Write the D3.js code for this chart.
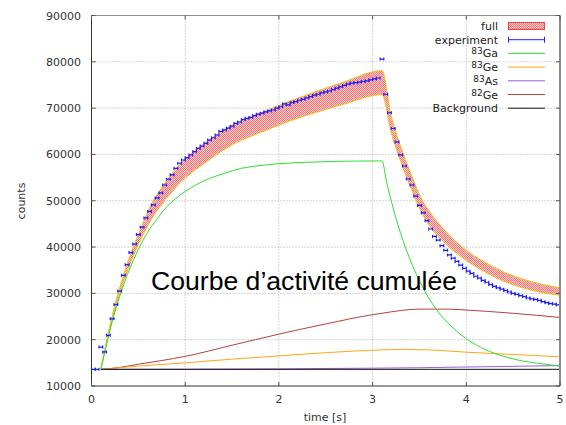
<!DOCTYPE html>
<html>
<head>
<meta charset="utf-8">
<script src="https://cdn.jsdelivr.net/npm/d3@7"></script>
<style>
  body { margin: 0; background: #fff; }
  svg { display: block; font-family: "DejaVu Sans", sans-serif; }
</style>
</head>
<body>
<div id="chart"></div>
<script>
// experiment: counts per 0.04 s bin, first bin centred on 0.02 s
const expStart = 0.02;
const expStep = 0.04;
const expCounts = [
  13600, 13600, 18400, 17350, 20950, 24500, 27600, 30500, 33900, 36200,
  38800, 40650, 42700, 44300, 46300, 47700, 49100, 50600, 51700, 53400,
  54650, 55600, 57000, 58100, 58800, 59300, 59900, 60600, 61300, 61800,
  62400, 63100, 63600, 64200, 65000, 65300, 65700, 66100, 66700, 67000,
  67500, 67800, 68000, 68400, 68700, 68900, 69200, 69400, 69600, 70000,
  70300, 70900, 70700, 71200, 71400, 71700, 71900, 72200, 72500, 72800,
  73000, 73300, 73500, 73700, 74000, 74300, 74600, 74900, 75200, 75400,
  75500, 75600, 75750, 75900, 76100, 76300, 76500, 80600, 73000, 69000,
  65600, 62700, 59900, 57500, 54700, 53400, 51000, 49000, 47400, 45700,
  43900, 42300, 41500, 40300, 39300, 38300, 37600, 36900, 36100, 35400,
  34800, 34300, 33700, 33300, 32800, 32400, 31900, 31500, 31200, 30900,
  30600, 30300, 30000, 29800, 29500, 29300, 29000, 28800, 28700, 28500,
  28200, 28000, 27800, 27700, 27500
];

// "full" fit band
const bandTime  = [0.1, 0.2, 0.3, 0.4, 0.5, 0.6, 0.8, 1.0, 1.2, 1.5, 1.8, 2.1, 2.4, 2.7, 3.1,
                   3.2, 3.3, 3.4, 3.5, 3.6, 3.7, 3.8, 3.9, 4.0, 4.2, 4.4, 4.6, 4.8, 5.0];
const bandUpper = [13600, 23400, 31200, 37500, 42700, 47600, 54300, 59000, 62300, 66300, 68900, 71400, 73600, 75700, 78100,
                   68200, 61700, 56300, 51300, 47900, 45200, 43000, 41000, 39300, 36700, 34600, 33100, 32000, 31200];
const bandLower = [13600, 22500, 29900, 35700, 40500, 44600, 50500, 54900, 58000, 62100, 64700, 67100, 69100, 70900, 72900,
                   64600, 58500, 53200, 48400, 44800, 42300, 40300, 38600, 37100, 34600, 32600, 31200, 30200, 29600];

// components
const gaTime = [0.1, 0.2, 0.3, 0.4, 0.5, 0.6, 0.7, 0.8, 0.9, 1.0, 1.2, 1.4, 1.6, 1.8, 2.0, 2.3, 2.6, 3.1,
                3.15, 3.2, 3.3, 3.4, 3.5, 3.6, 3.7, 3.8, 3.9, 4.0, 4.2, 4.4, 4.6, 4.8, 5.0];
const ga83 = [13600, 22300, 29300, 34900, 39500, 43200, 46100, 48600, 50500, 52000, 54300, 55800, 57000, 57600, 58000, 58300, 58500, 58600,
              54000, 49900, 42900, 37300, 32700, 29000, 26000, 23700, 21800, 20200, 17900, 16400, 15400, 14800, 14300];

const geTime = [0.1, 0.5, 1.0, 1.5, 2.0, 2.5, 3.1, 3.3, 3.6, 4.0, 4.5, 5.0];
const ge83 = [13600, 14300, 15000, 15800, 16500, 17200, 17800, 17900, 17800, 17300, 16800, 16300];

const asTime = [0.1, 1.0, 2.0, 3.0, 3.5, 4.0, 4.5, 5.0];
const as83 = [13600, 13620, 13700, 13850, 13950, 14100, 14250, 14400];

const ge82Time = [0.1, 0.3, 0.5, 0.75, 1.0, 1.5, 2.0, 2.5, 3.0, 3.1, 3.3, 3.5, 3.8, 4.0, 4.5, 5.0];
const ge82 = [13600, 14000, 14700, 15500, 16400, 18800, 21200, 23400, 25400, 25700, 26300, 26600, 26600, 26400, 25700, 24800];

const bgTime = [0.1, 5.0];
const background = [13600, 13600];

const xTicks = [0, 1, 2, 3, 4, 5];
const yTicks = [10000, 20000, 30000, 40000, 50000, 60000, 70000, 80000, 90000];

const width = 566, height = 425;
const plot = { left: 91.5, right: 560, top: 15.5, bottom: 386 };

const svg = d3.select('#chart').append('svg')
    .attr('width', width)
    .attr('height', height);

const x = d3.scaleLinear().domain([0, 5]).range([plot.left, plot.right]);
const y = d3.scaleLinear().domain([10000, 90000]).range([plot.bottom, plot.top]);

// checkered fill for the fit band
const defs = svg.append('defs');
const pat = defs.append('pattern')
    .attr('id', 'check')
    .attr('patternUnits', 'userSpaceOnUse')
    .attr('width', 2).attr('height', 2);
pat.append('rect').attr('width', 2).attr('height', 2).attr('fill', '#ffcccc').attr('shape-rendering', 'crispEdges');
pat.append('rect').attr('width', 1).attr('height', 1).attr('fill', '#ff7676').attr('shape-rendering', 'crispEdges');
pat.append('rect').attr('x', 1).attr('y', 1).attr('width', 1).attr('height', 1).attr('fill', '#ff7676').attr('shape-rendering', 'crispEdges');

// grid
const grid = svg.append('g')
    .attr('stroke', '#a8a8a8')
    .attr('stroke-dasharray', '1,2');
grid.selectAll('.gx').data(xTicks.slice(1, -1)).enter().append('line')
    .attr('x1', d => x(d)).attr('x2', d => x(d))
    .attr('y1', plot.top).attr('y2', plot.bottom);
grid.selectAll('.gy').data(yTicks.slice(1, -1)).enter().append('line')
    .attr('x1', plot.left).attr('x2', plot.right)
    .attr('y1', d => y(d)).attr('y2', d => y(d));

// band
const bandData = bandTime.map((t, i) => ({ t, hi: bandUpper[i], lo: bandLower[i] }));
const curve = d3.curveMonotoneX;
svg.append('path')
    .datum(bandData)
    .attr('fill', 'url(#check)')
    .attr('d', d3.area().curve(curve).x(d => x(d.t)).y0(d => y(d.lo)).y1(d => y(d.hi)));
['hi', 'lo'].forEach(k => {
    svg.append('path')
        .datum(bandData)
        .attr('fill', 'none')
        .attr('stroke', '#e8c41c')
        .attr('stroke-width', 1)
        .attr('d', d3.line().curve(curve).x(d => x(d.t)).y(d => y(d[k])));
});

// component curves
const series = [
    { time: ge82Time, vals: ge82, color: '#b8403c' },
    { time: geTime, vals: ge83, color: '#ffa41a' },
    { time: asTime, vals: as83, color: '#9c5fe0' },
    { time: bgTime, vals: background, color: '#111' },
    { time: gaTime, vals: ga83, color: '#2fe02f' }
];
const line = d3.line().curve(curve).x(d => x(d[0])).y(d => y(d[1]));
series.forEach(s => {
    svg.append('path')
        .datum(s.time.map((t, i) => [t, s.vals[i]]))
        .attr('fill', 'none')
        .attr('stroke', s.color)
        .attr('stroke-width', 1)
        .attr('d', line);
});

// experiment with x error bars
const expData = expCounts.map((c, i) => ({ t: expStart + i * expStep, c }));
const expG = svg.append('g').attr('stroke', '#1f1fff').attr('fill', 'none');
expG.selectAll('path').data(expData).enter().append('path')
    .attr('stroke-width', 1.2)
    .attr('d', d => {
        const x0 = x(d.t - expStep / 2), x1 = x(d.t + expStep / 2), yy = y(d.c);
        return `M${x0},${yy}H${x1}M${x0},${yy - 1.5}V${yy + 1.5}M${x1},${yy - 1.5}V${yy + 1.5}`;
    });

// frame
const frame = svg.append('g').attr('fill', 'none');
frame.append('line').attr('x1', plot.left).attr('x2', plot.right).attr('y1', plot.top).attr('y2', plot.top)
    .attr('stroke', '#8c8c8c');
frame.append('line').attr('x1', plot.right).attr('x2', plot.right).attr('y1', plot.top).attr('y2', plot.bottom)
    .attr('stroke', '#8c8c8c').attr('stroke-width', 2);
frame.append('line').attr('x1', plot.left).attr('x2', plot.right).attr('y1', plot.bottom).attr('y2', plot.bottom)
    .attr('stroke', '#333');
frame.append('line').attr('x1', plot.left).attr('x2', plot.left).attr('y1', plot.top).attr('y2', plot.bottom)
    .attr('stroke', '#333');

// small inward ticks, mirrored
const tk = svg.append('g').attr('stroke', '#555');
xTicks.forEach(t => {
    tk.append('line').attr('x1', x(t)).attr('x2', x(t)).attr('y1', plot.bottom).attr('y2', plot.bottom - 4);
    tk.append('line').attr('x1', x(t)).attr('x2', x(t)).attr('y1', plot.top).attr('y2', plot.top + 4);
});
yTicks.forEach(v => {
    tk.append('line').attr('x1', plot.left).attr('x2', plot.left + 4).attr('y1', y(v)).attr('y2', y(v));
    tk.append('line').attr('x1', plot.right).attr('x2', plot.right - 4).attr('y1', y(v)).attr('y2', y(v));
});

// tick labels
svg.append('g').selectAll('text').data(xTicks).enter().append('text')
    .attr('x', d => x(d)).attr('y', 403)
    .attr('text-anchor', 'middle')
    .attr('font-size', 11).attr('fill', '#333')
    .text(d => d);
svg.append('g').selectAll('text').data(yTicks).enter().append('text')
    .attr('x', 81).attr('y', d => y(d) + 4)
    .attr('text-anchor', 'end')
    .attr('font-size', 11).attr('fill', '#333')
    .text(d => d);

// axis titles
svg.append('text')
    .attr('x', 325).attr('y', 421)
    .attr('text-anchor', 'middle')
    .attr('font-size', 11).attr('fill', '#333')
    .text('time [s]');
svg.append('text')
    .attr('transform', 'translate(25,201) rotate(-90)')
    .attr('text-anchor', 'middle')
    .attr('font-size', 11).attr('fill', '#333')
    .text('counts');

// legend
const legend = [
    { sup: '', name: 'full', kind: 'band' },
    { sup: '', name: 'experiment', kind: 'err', color: '#1f1fff' },
    { sup: '83', name: 'Ga', color: '#2fe02f' },
    { sup: '83', name: 'Ge', color: '#ffa41a' },
    { sup: '83', name: 'As', color: '#9c5fe0' },
    { sup: '82', name: 'Ge', color: '#b8403c' },
    { sup: '', name: 'Background', color: '#111' }
];
const lg = svg.append('g');
legend.forEach((e, i) => {
    const yy = 26 + i * 13.7;
    const tx = lg.append('text')
        .attr('x', 498).attr('y', yy + 4)
        .attr('text-anchor', 'end')
        .attr('font-size', 11).attr('fill', '#222');
    if (e.sup) {
        tx.append('tspan').attr('font-size', 9).attr('dy', -3).text(e.sup);
        tx.append('tspan').attr('dy', 3).text(e.name);
    } else {
        tx.text(e.name);
    }
    if (e.kind === 'band') {
        lg.append('rect')
            .attr('x', 508.5).attr('y', yy - 3.5).attr('width', 36).attr('height', 7)
            .attr('fill', 'url(#check)').attr('stroke', '#f04040');
    } else if (e.kind === 'err') {
        lg.append('path')
            .attr('fill', 'none').attr('stroke', e.color)
            .attr('d', `M508.5,${yy}H544.5M508.5,${yy - 3}V${yy + 3}M544.5,${yy - 3}V${yy + 3}`);
    } else {
        lg.append('line')
            .attr('x1', 508).attr('x2', 545).attr('y1', yy).attr('y2', yy)
            .attr('stroke', e.color);
    }
});

// annotation
svg.append('text')
    .attr('x', 151).attr('y', 290)
    .attr('font-family', '"Liberation Sans", Arial, sans-serif')
    .attr('font-size', 26.6).attr('fill', '#000')
    .text('Courbe d’activité cumulée');
</script>
</body>
</html>
